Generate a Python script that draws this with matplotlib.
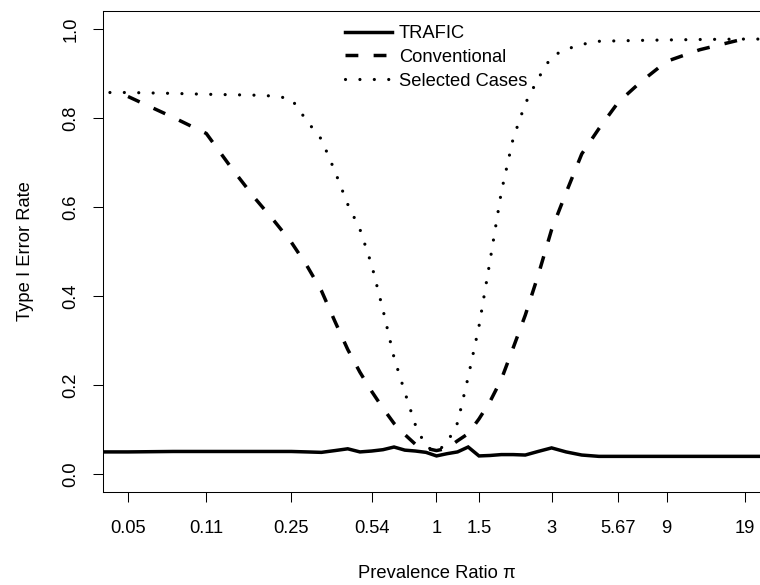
import numpy as np
import matplotlib
matplotlib.use("Agg")
import matplotlib.pyplot as plt

# proportion of cases p; the axis shows the prevalence ratio p / (1 - p)
p = [0.05, 0.075, 0.1, 0.125, 0.15, 0.175, 0.2, 0.225, 0.25, 0.275, 0.3, 0.325,
     0.35, 0.375, 0.4, 0.425, 0.45, 0.475, 0.5, 0.525, 0.55, 0.575, 0.6, 0.625,
     0.65, 0.675, 0.7, 0.725, 0.75, 0.775, 0.8, 0.825, 0.85, 0.875, 0.9, 0.925, 0.95]

# TRAFIC line reaches the plot edges
trafic_p = [0.0396] + p + [0.9604]
trafic = [0.050, 0.050, 0.051, 0.051, 0.051, 0.051, 0.051, 0.051, 0.050, 0.049, 0.053, 0.057, 0.050,
          0.052, 0.055, 0.061, 0.054, 0.052, 0.049, 0.041, 0.046, 0.050, 0.061, 0.041, 0.042,
          0.044, 0.044, 0.043, 0.051, 0.059, 0.050, 0.043, 0.040, 0.040, 0.040, 0.040, 0.040, 0.040, 0.040]

conventional = [0.848, 0.801, 0.765, 0.684, 0.620, 0.569, 0.521, 0.468, 0.412, 0.343, 0.280, 0.229,
                0.186, 0.148, 0.114, 0.089, 0.067, 0.058, 0.053, 0.058, 0.075, 0.091, 0.124, 0.163,
                0.213, 0.283, 0.357, 0.446, 0.549, 0.632, 0.719, 0.776, 0.835, 0.880, 0.927, 0.953, 0.978]

# selected cases curve runs a little further out on both ends
sel_p = [0.0424] + p + [0.9576]
selected = [0.857, 0.857, 0.855, 0.853, 0.852, 0.851, 0.849, 0.843, 0.793, 0.752, 0.680, 0.606, 0.550,
            0.470, 0.369, 0.262, 0.184, 0.110, 0.062, 0.050, 0.070, 0.115, 0.218, 0.332, 0.479,
            0.634, 0.753, 0.832, 0.888, 0.938, 0.954, 0.965, 0.972, 0.973, 0.974, 0.975, 0.976, 0.977, 0.977]

tick_ratio = [1 / 19, 1 / 9, 1 / 4, 7 / 13, 1, 1.5, 3, 17 / 3, 9, 19]
tick_labels = ["0.05", "0.11", "0.25", "0.54", "1", "1.5", "3", "5.67", "9", "19"]
y_ticks = [0.0, 0.2, 0.4, 0.6, 0.8, 1.0]


def ratio(v):
    v = np.asarray(v)
    return v / (1 - v)


plt.rcParams["font.family"] = ["Liberation Sans", "DejaVu Sans"]
fs = 13.2

fig = plt.figure(figsize=(7.6, 5.85), dpi=100)
ax = fig.add_axes([102.5 / 760, 1 - 492 / 585, 668 / 760, 481 / 585])

ax.plot(ratio(trafic_p), trafic, color="black", lw=2.5, solid_joinstyle="miter", label="TRAFIC")
ax.plot(ratio(p), conventional, color="black", lw=2.5, dashes=(3.7, 4.4),
        dash_capstyle="butt", label="Conventional")
ax.plot(ratio(sel_p), selected, color="black", lw=2.3, dashes=(0.01, 4.5),
        dash_capstyle="round", label="Selected Cases")

ax.set_xscale("log")
ax.set_xlim(np.exp(-3.188), np.exp(3.188))
ax.set_ylim(-0.04, 1.04)
ax.set_xticks(tick_ratio)
ax.set_xticklabels(tick_labels)
ax.xaxis.set_minor_locator(matplotlib.ticker.NullLocator())
ax.set_yticks(y_ticks)
ax.set_yticklabels([f"{t:.1f}" for t in y_ticks], rotation=90, va="center")

ax.tick_params(axis="both", length=7.5, width=0.75, labelsize=fs, color="black")
ax.tick_params(axis="x", pad=12.5)
ax.tick_params(axis="y", pad=9)
for s in ax.spines.values():
    s.set_linewidth(0.75)

ax.set_xlabel("Prevalence Ratio π", fontsize=fs)
ax.set_ylabel("Type I Error Rate", fontsize=fs)
ax.xaxis.set_label_coords(0.5, -0.17)
ax.xaxis.label.set_va("center")
ax.yaxis.set_label_coords(-0.116, 0.5)
ax.yaxis.label.set_va("center")

ax.legend(loc="upper left", bbox_to_anchor=(345 / 760, 1 - 25 / 585),
          bbox_transform=fig.transFigure, frameon=False, fontsize=fs,
          handlelength=2.57, handletextpad=0.38, labelspacing=0.37,
          borderpad=0, borderaxespad=0)

fig.savefig("out.png", dpi=100)
